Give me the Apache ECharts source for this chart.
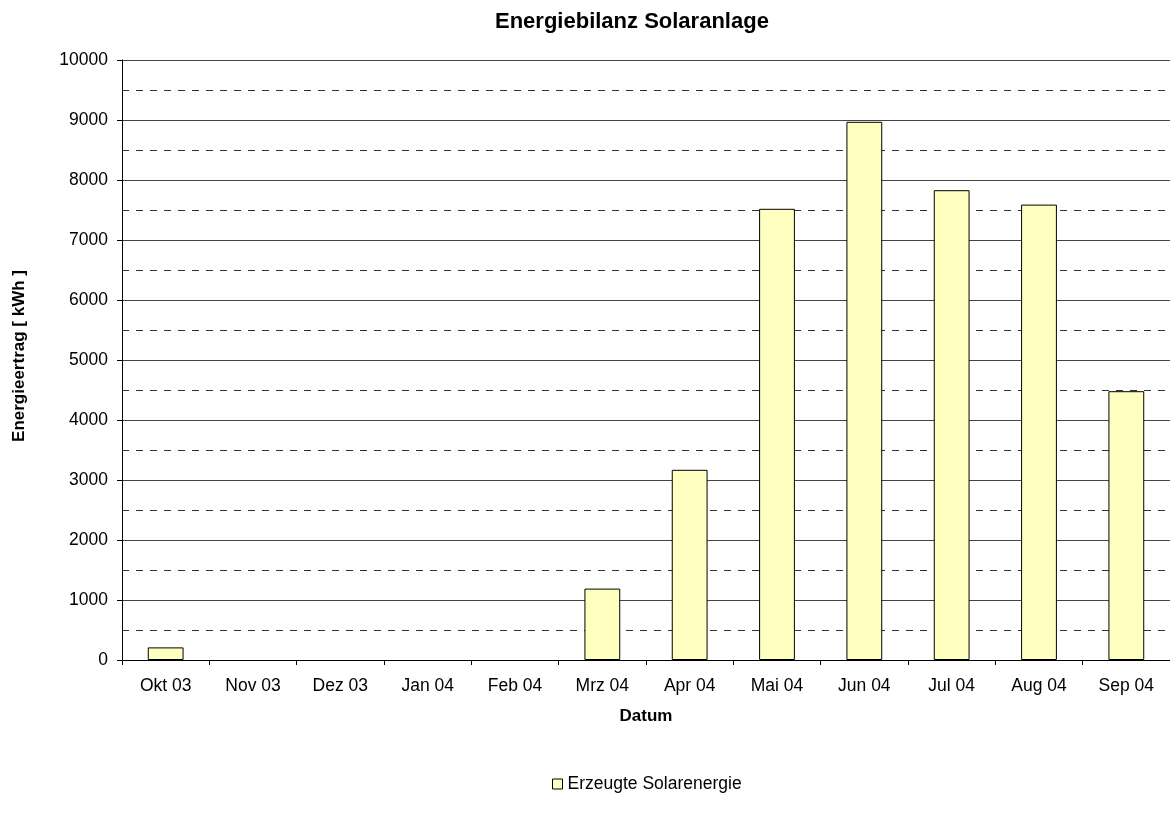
<!DOCTYPE html>
<html>
<head>
<meta charset="utf-8">
<script src="https://cdn.jsdelivr.net/npm/echarts@6/dist/echarts.min.js"></script>
<style>
  html, body { margin: 0; padding: 0; background: #ffffff; }
  #chart { width: 1170px; height: 819px; }
</style>
</head>
<body>
<div id="chart"></div>
<script>
// Monthly solar energy yield, Oct 2003 – Sep 2004
const months = ['Okt 03', 'Nov 03', 'Dez 03', 'Jan 04', 'Feb 04', 'Mrz 04',
                'Apr 04', 'Mai 04', 'Jun 04', 'Jul 04', 'Aug 04', 'Sep 04'];
const solarEnergy = [210, 0, 0, 0, 0, 1190, 3170, 7520, 8970, 7830, 7590, 4480];
const seriesName = 'Erzeugte Solarenergie';

const FONT = '"Liberation Sans", Arial, sans-serif';
const BAR_FILL = '#FFFFC0';

// empty months get no outline so nothing shows on the axis
const barData = solarEnergy.map(v => ({
  value: v,
  itemStyle: v === 0 ? { borderWidth: 0, color: 'transparent' } : undefined
}));

const chart = echarts.init(document.getElementById('chart'), null, { renderer: 'canvas' });

chart.setOption({
  backgroundColor: '#ffffff',
  animation: false,
  textStyle: { fontFamily: FONT },
  title: {
    text: 'Energiebilanz Solaranlage',
    left: 490,
    top: 6,
    textStyle: { fontFamily: FONT, fontSize: 22, fontWeight: 'bold', color: '#000' }
  },
  legend: {
    left: 547,
    top: 770,
    itemWidth: 10,
    itemHeight: 10,
    itemGap: 4,
    icon: 'rect',
    textStyle: { fontFamily: FONT, fontSize: 17.5, color: '#000', padding: [0, 0, 0, 0] },
    data: [{ name: seriesName, itemStyle: { color: BAR_FILL, borderColor: '#000', borderWidth: 1 } }]
  },
  grid: { left: 122, right: -1, top: 60, bottom: 159, containLabel: false },
  xAxis: {
    type: 'category',
    data: months,
    name: 'Datum',
    nameLocation: 'middle',
    nameGap: 48,
    nameTextStyle: { fontFamily: FONT, fontSize: 17, fontWeight: 'bold', color: '#000' },
    axisLine: { lineStyle: { color: '#000', width: 1 } },
    axisTick: { show: true, alignWithLabel: false, length: 5, lineStyle: { color: '#000' } },
    axisLabel: { fontFamily: FONT, fontSize: 17.5, color: '#000', margin: 17, interval: 0 },
    splitLine: { show: false }
  },
  yAxis: {
    type: 'value',
    min: 0,
    max: 10000,
    interval: 1000,
    name: 'Energieertrag [ kWh ]',
    nameLocation: 'middle',
    nameGap: 94,
    nameTextStyle: { fontFamily: FONT, fontSize: 17, fontWeight: 'bold', color: '#000', padding: [0, 0, 0, 8] },
    axisLine: { show: true, lineStyle: { color: '#000', width: 1 } },
    axisTick: { show: true, length: 5, lineStyle: { color: '#000' } },
    axisLabel: { fontFamily: FONT, fontSize: 17.5, color: '#000', margin: 14, formatter: v => String(v) },
    splitLine: { show: true, lineStyle: { color: '#444', width: 1, type: 'solid' } },
    minorTick: { show: false, splitNumber: 2 },
    minorSplitLine: { show: true, lineStyle: { color: '#333', width: 1, type: [7, 7] } }
  },
  series: [{
    name: seriesName,
    type: 'bar',
    data: barData,
    barWidth: '41%',
    itemStyle: { color: BAR_FILL, borderColor: '#000', borderWidth: 1 },
    emphasis: { disabled: true }
  }]
});
</script>
</body>
</html>
